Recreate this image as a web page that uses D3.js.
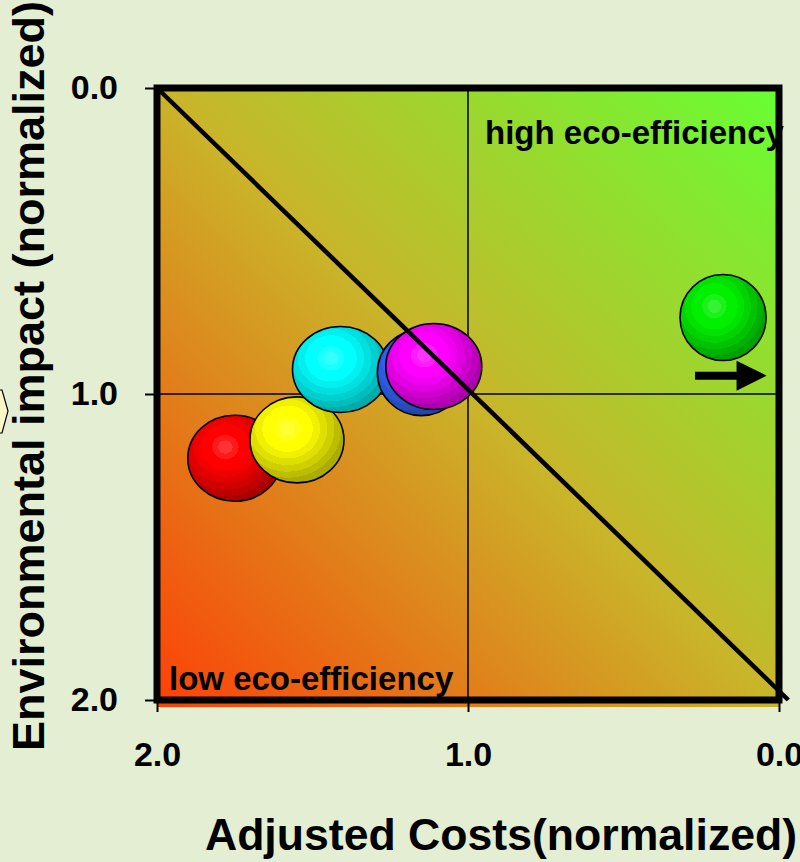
<!DOCTYPE html>
<html>
<head>
<meta charset="utf-8">
<script src="https://cdn.jsdelivr.net/npm/d3@7"></script>
<style>
  html, body { margin: 0; padding: 0; background: #e3eed3; }
  svg { display: block; }
  text { font-family: "Liberation Sans", Arial, sans-serif; font-weight: bold; fill: #000; }
</style>
</head>
<body>
<svg id="chart" width="800" height="862"></svg>
<script>
// data
const alternatives = ["red", "yellow", "cyan", "blue", "magenta", "green"]
const adjustedCosts = [1.75, 1.55, 1.41, 1.15, 1.11, 0.18]
const envImpact = [1.21, 1.15, 0.92, 0.93, 0.91, 0.75]
const tickValues = [0, 1, 2]
const tickLabels = ["0.0", "1.0", "2.0"]
const diagonal = [[2.0, 0.0], [-0.03, 2.0]]
const arrowFrom = [0.27, 0.94]
const arrowTo = [0.04, 0.94]
const regionLabels = ["high eco-efficiency", "low eco-efficiency"]
const xTitle = "Adjusted Costs(normalized)"
const yTitle = "Environmental impact (normalized)"

// styles
const bubbleColors = ["#ff0000", "#ffff00", "#00ffff", "#3366ff", "#ff00ff", "#00f000"]
const bubbleRx = [47, 47, 48, 44, 48, 43]
const bubbleRy = 43

const svg = d3.select("#chart")
const defs = svg.append("defs")

const x = d3.scaleLinear().domain([2, 0]).range([157, 779])
const y = d3.scaleLinear().domain([0, 2]).range([88, 700])

// background gradient: red-orange bottom-left to green top-right
const bg = defs.append("linearGradient")
  .attr("id", "bg")
  .attr("gradientUnits", "userSpaceOnUse")
  .attr("x1", x(2)).attr("y1", y(2))
  .attr("x2", x(0)).attr("y2", y(0))
bg.append("stop").attr("offset", 0).attr("stop-color", "#fc4208")
bg.append("stop").attr("offset", 0.5).attr("stop-color", "#c9b52a")
bg.append("stop").attr("offset", 1).attr("stop-color", "#66ff33")

svg.append("rect")
  .attr("x", x(2))
  .attr("y", y(0))
  .attr("width", x(0) - x(2))
  .attr("height", y(2) - y(0) + 7)
  .attr("fill", "url(#bg)")

// grid lines at 1.0
svg.append("line")
  .attr("x1", x(1)).attr("x2", x(1))
  .attr("y1", y(0)).attr("y2", y(2))
  .attr("stroke", "#000").attr("stroke-width", 1.5)
svg.append("line")
  .attr("x1", x(2)).attr("x2", x(0))
  .attr("y1", y(1)).attr("y2", y(1))
  .attr("stroke", "#000").attr("stroke-width", 1.5)

// axes
const fmt = d => tickLabels[tickValues.indexOf(d)]
const yAxis = svg.append("g")
  .attr("transform", `translate(${x(2)},0)`)
  .call(d3.axisLeft(y).tickValues(tickValues).tickSize(12).tickPadding(27).tickFormat(fmt))
const xAxis = svg.append("g")
  .attr("transform", `translate(0,${y(2)})`)
  .call(d3.axisBottom(x).tickValues(tickValues).tickSize(12).tickPadding(30).tickFormat(fmt))
for (const g of [yAxis, xAxis]) {
  g.select(".domain").remove()
  g.selectAll("line").attr("stroke", "#000").attr("stroke-width", 2)
  g.selectAll("text")
    .attr("font-size", "34px")
    .attr("font-family", "'Liberation Sans', Arial, sans-serif")
    .attr("font-weight", "bold")
    .attr("fill", "#000")
}

// shaded bubbles: banded radial gradients
const mix = (a, b, t) => d3.interpolateRgb(a, b)(t)
alternatives.forEach((name, i) => {
  const base = bubbleColors[i]
  const bands = [
    [0.00, 0.12, mix(base, "#fff", 0.2)],
    [0.12, 0.22, mix(base, "#fff", 0.1)],
    [0.22, 0.42, base],
    [0.42, 0.54, mix(base, "#000", 0.06)],
    [0.54, 0.66, mix(base, "#000", 0.12)],
    [0.66, 0.78, mix(base, "#000", 0.19)],
    [0.78, 0.89, mix(base, "#000", 0.26)],
    [0.89, 1.00, mix(base, "#000", 0.33)]
  ]
  const rg = defs.append("radialGradient")
    .attr("id", "ball-" + name)
    .attr("cx", 0.4).attr("cy", 0.37).attr("r", 0.64)
    .attr("fx", 0.4).attr("fy", 0.37)
  bands.forEach(([a, b, c]) => {
    rg.append("stop").attr("offset", a).attr("stop-color", c)
    rg.append("stop").attr("offset", b).attr("stop-color", c)
  })
})

svg.append("g")
  .selectAll("ellipse")
  .data(alternatives)
  .join("ellipse")
  .attr("cx", (d, i) => x(adjustedCosts[i]))
  .attr("cy", (d, i) => y(envImpact[i]))
  .attr("rx", (d, i) => bubbleRx[i])
  .attr("ry", bubbleRy)
  .attr("fill", d => `url(#ball-${d})`)
  .attr("stroke", "#000")
  .attr("stroke-width", 1.6)

// diagonal iso-efficiency line
svg.append("line")
  .attr("x1", x(diagonal[0][0])).attr("y1", y(diagonal[0][1]))
  .attr("x2", x(diagonal[1][0])).attr("y2", y(diagonal[1][1]))
  .attr("stroke", "#000").attr("stroke-width", 4.5)

// arrow
const ax0 = x(arrowFrom[0]), ax1 = x(arrowTo[0]), ay = y(arrowFrom[1])
const headLen = 30, headHalf = 15, shaftHalf = 4
svg.append("path")
  .attr("d", [
    [ax0, ay - shaftHalf], [ax1 - headLen, ay - shaftHalf], [ax1 - headLen, ay - headHalf],
    [ax1, ay], [ax1 - headLen, ay + headHalf], [ax1 - headLen, ay + shaftHalf], [ax0, ay + shaftHalf]
  ].map((p, i) => (i ? "L" : "M") + p[0] + "," + p[1]).join("") + "Z")
  .attr("fill", "#000")

// region labels
svg.append("text")
  .attr("x", 485).attr("y", 144)
  .attr("font-size", "33px")
  .text(regionLabels[0])
svg.append("text")
  .attr("x", 169).attr("y", 690)
  .attr("font-size", "33px")
  .text(regionLabels[1])

// frame
svg.append("rect")
  .attr("x", x(2)).attr("y", y(0))
  .attr("width", x(0) - x(2))
  .attr("height", y(2) - y(0))
  .attr("fill", "none")
  .attr("stroke", "#000")
  .attr("stroke-width", 7)

// axis titles
svg.append("text")
  .attr("x", 501).attr("y", 850)
  .attr("text-anchor", "middle")
  .attr("font-size", "44.6px")
  .text(xTitle)
svg.append("text")
  .attr("transform", "translate(44,376) rotate(-90)")
  .attr("text-anchor", "middle")
  .attr("font-size", "45px")
  .text(yTitle)

// edge of a neighbouring shape at the left border
svg.append("path")
  .attr("d", "M-2,390L2,390L8,411L2,433L-2,433Z")
  .attr("fill", "#fdf6c8")
  .attr("stroke", "#000")
  .attr("stroke-width", 1.2)
</script>
</body>
</html>
